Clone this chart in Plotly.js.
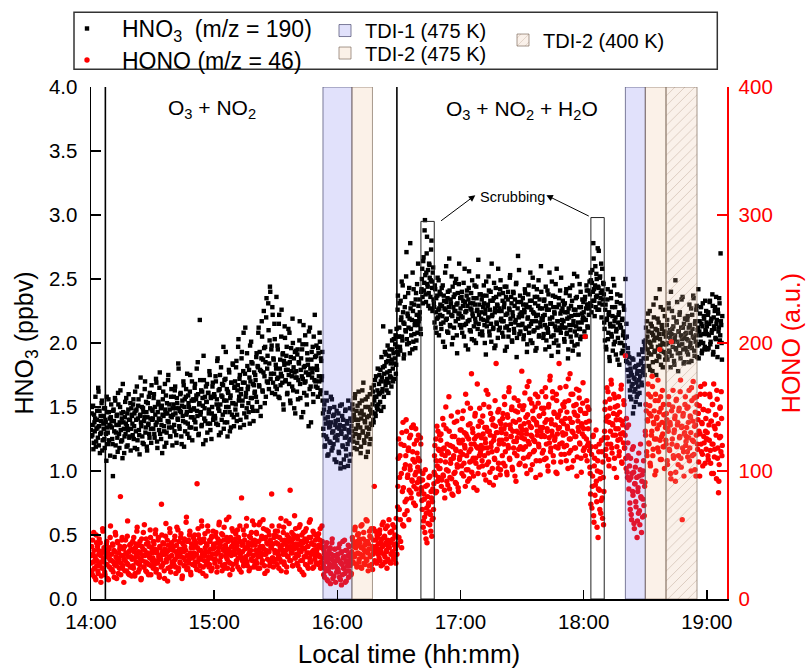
<!DOCTYPE html>
<html><head><meta charset="utf-8">
<script src="https://cdn.plot.ly/plotly-3.0.1.min.js"></script>
<style>html,body{margin:0;padding:0;background:#fff}#chart{width:811px;height:672px}</style>
</head><body><div id="chart"></div>
<script>
// ---------- data (time in minutes after 14:00) ----------
// two interleaved reads, each one sample every 20 s; read B is 10 s after read A
const sampleMinutes = 1/3;
const tickTimes = [0, 60, 120, 180, 240, 300];
const tickLabels = ['14:00', '15:00', '16:00', '17:00', '18:00', '19:00'];

// HNO3 (ppbv), m/z = 190 — read A
const hno3A = [
1.32,1.45,1.28,1.51,1.22,1.38,1.41,1.19,1.33,1.47,1.26,1.62,1.35,1.14,1.43,1.30,1.55,1.24,1.37,1.49,1.18,1.40,1.29,1.58,1.34,1.21,1.46,1.36,1.12,1.42,
1.39,1.25,0.96,1.48,1.31,1.57,1.20,1.36,1.44,1.15,1.52,1.29,1.38,1.63,1.23,1.41,1.10,1.46,1.33,1.27,1.54,1.37,1.19,1.45,1.32,1.60,1.26,1.40,1.16,1.49,
1.43,1.28,1.56,1.35,1.18,1.47,1.40,1.66,1.24,1.51,1.32,1.13,1.44,1.38,1.59,1.27,1.49,1.21,1.42,1.70,1.34,1.46,1.16,1.53,1.37,1.29,1.61,1.41,1.22,1.48,
1.47,1.33,1.60,1.26,1.44,1.72,1.38,1.18,1.52,1.41,1.65,1.29,1.49,1.36,1.14,1.56,1.43,1.31,1.68,1.45,1.22,1.53,1.39,1.75,1.34,1.48,1.27,1.58,1.42,1.20,
1.44,1.58,1.31,1.66,1.49,1.22,1.53,1.40,1.80,1.35,1.47,1.61,1.27,1.51,1.43,1.70,1.19,1.56,1.38,1.64,1.46,1.29,1.59,1.50,1.34,1.75,1.42,1.55,1.24,1.48,
1.55,1.40,1.68,1.33,1.59,1.47,1.85,1.28,1.52,2.18,1.44,1.63,1.36,1.57,1.21,1.71,1.49,1.39,1.66,1.54,1.30,1.61,1.45,1.78,1.37,1.58,1.25,1.50,1.69,1.42,
1.60,1.43,1.74,1.37,1.56,1.88,1.49,1.28,1.64,1.52,1.81,1.40,1.58,1.67,1.33,1.71,1.46,1.93,1.55,1.38,1.62,1.50,1.77,1.31,1.59,1.69,1.44,1.84,1.53,1.35,
1.66,1.48,1.81,1.39,1.63,1.97,1.55,1.72,1.34,1.60,1.88,1.51,1.69,2.08,1.45,1.76,1.58,1.42,1.92,1.64,1.53,1.79,1.37,1.70,2.01,1.57,1.84,1.47,1.67,1.61,
1.75,1.58,1.92,1.47,1.81,2.12,1.66,1.79,1.43,1.88,2.05,1.62,1.77,1.96,1.53,1.85,2.20,1.70,1.90,2.31,1.64,2.02,2.40,1.76,1.98,2.28,1.69,1.87,2.15,1.60,
1.83,2.36,1.72,1.95,1.58,2.22,1.80,1.67,2.05,1.74,1.91,1.52,1.86,2.13,1.70,1.79,1.97,1.61,1.84,1.75,2.08,1.55,1.89,1.78,1.66,2.00,1.81,1.49,1.93,1.73,
1.78,1.62,1.95,1.71,1.84,2.17,1.57,1.88,1.74,1.99,1.46,1.81,1.69,2.06,1.77,1.59,1.92,1.83,1.35,1.76,2.12,1.66,1.87,1.73,1.97,1.54,1.80,2.22,1.70,1.90,
1.82,1.65,1.96,1.74,2.08,1.60,1.88,1.71,1.93,1.45,1.28,1.52,1.20,1.37,1.61,1.25,1.42,1.13,1.34,1.49,1.22,1.38,1.56,1.18,1.31,1.44,1.09,1.36,1.27,1.47,
1.24,1.40,1.15,1.33,1.51,1.06,1.29,1.43,1.19,1.35,1.03,1.26,1.48,1.12,1.37,1.21,1.55,1.30,1.08,1.41,1.25,1.39,1.52,1.27,1.44,1.18,1.60,1.33,1.47,1.22,
1.36,1.62,1.28,1.45,1.14,1.41,1.55,1.31,1.69,1.24,1.39,1.50,1.11,1.34,1.58,1.29,1.43,1.21,1.48,1.37,1.65,1.46,1.62,1.38,1.55,1.71,1.43,1.58,1.49,1.80,
1.52,1.68,1.61,1.79,1.47,1.73,1.64,2.13,1.58,1.82,1.70,1.91,1.63,1.77,1.86,1.69,1.95,1.74,1.84,1.66,2.02,1.80,1.92,1.72,1.88,2.06,1.83,1.97,2.26,1.91,
2.05,2.31,1.94,2.18,2.48,2.02,2.24,1.88,2.15,2.36,2.09,2.71,1.99,2.21,2.12,2.43,1.92,2.27,2.06,2.18,2.55,2.01,2.30,2.14,1.96,2.39,2.22,2.08,2.62,2.17,
2.19,2.34,2.07,2.42,2.58,2.31,2.67,2.47,2.96,2.38,2.55,2.83,2.44,2.29,2.62,2.51,2.36,2.73,2.48,2.25,2.59,2.31,2.16,2.42,2.24,2.08,2.37,2.20,2.49,2.27,
2.22,2.38,2.11,2.29,2.45,2.16,2.33,1.97,2.26,2.60,2.19,2.35,2.08,2.28,2.41,2.13,2.31,2.52,2.21,2.04,2.36,2.25,2.47,2.17,2.30,1.92,2.39,2.23,2.62,2.14,
2.27,2.12,2.40,2.20,2.33,2.05,2.58,2.24,2.15,2.37,2.29,1.95,2.43,2.18,2.31,2.09,2.26,2.49,2.21,2.35,2.02,2.30,2.16,2.44,2.25,2.11,2.65,2.22,2.38,2.07,
2.19,2.34,2.06,2.28,2.45,2.14,2.23,1.91,2.37,2.17,2.30,2.52,2.09,2.26,2.40,2.01,2.21,2.33,2.12,2.47,2.24,1.98,2.36,2.15,2.29,2.58,2.10,2.27,2.42,2.18,
2.25,2.08,2.39,2.17,2.31,1.94,2.22,2.44,2.13,2.34,2.05,2.27,2.51,2.19,2.36,2.02,2.24,2.40,2.11,2.29,2.16,2.46,1.89,2.32,2.68,2.20,2.07,2.37,2.23,2.14,
2.21,2.35,2.03,2.26,2.42,2.12,2.30,1.93,2.19,2.38,2.08,2.28,2.55,2.15,2.33,2.00,2.24,2.44,2.10,2.31,2.17,1.96,2.36,2.22,2.49,2.06,2.27,2.13,2.40,2.19,
2.18,2.04,2.33,2.22,1.95,2.29,2.12,2.41,2.08,2.26,2.55,2.15,2.31,1.90,2.20,2.37,2.06,2.24,2.13,2.46,2.02,2.28,2.17,1.98,2.35,2.10,2.23,2.51,2.14,2.27,
2.12,2.30,2.01,2.24,2.39,2.07,2.19,1.88,2.27,2.14,2.43,2.05,2.21,2.33,1.94,2.17,2.54,2.09,2.26,2.13,2.36,1.99,2.22,2.11,2.46,2.03,2.28,2.16,2.34,2.20,
2.24,2.09,2.36,2.18,2.45,2.30,2.12,2.41,2.27,2.38,2.55,2.29,2.47,2.33,2.78,2.42,2.21,2.60,2.36,2.50,2.26,2.44,2.72,2.31,2.52,2.39,2.20,2.58,2.34,2.46,
2.16,2.02,2.30,1.95,2.19,2.42,2.08,2.24,1.86,2.13,2.35,2.05,2.21,2.50,1.99,2.17,2.28,1.91,2.11,2.38,2.04,2.22,1.83,2.14,2.31,2.00,2.18,1.94,2.09,2.26,
1.98,2.50,1.86,2.05,1.79,1.92,1.70,1.84,1.58,1.77,1.66,1.88,1.45,1.73,1.62,1.81,1.54,1.69,1.76,1.60,1.83,1.71,1.52,1.78,1.86,1.67,1.93,1.80,2.01,1.75,
1.96,2.12,1.88,2.05,2.23,1.92,2.01,1.79,2.15,1.97,2.08,1.85,2.30,2.02,1.94,2.11,1.75,2.04,2.19,1.90,2.07,2.42,1.98,1.83,2.14,2.00,2.26,1.93,2.09,1.87,
2.05,1.89,2.18,2.00,2.31,1.94,2.10,1.81,2.07,2.25,1.97,2.13,1.86,2.03,2.49,1.95,2.16,2.01,1.78,2.09,2.22,1.92,2.06,2.34,1.99,2.12,1.84,2.04,2.19,1.96,
2.08,1.93,2.21,2.02,1.85,2.14,2.00,2.27,1.96,2.11,2.37,2.04,1.90,2.17,2.06,2.29,1.98,2.12,1.88,2.09,2.23,2.01,2.15,1.94,2.31,2.07,2.19,1.97,2.10,2.25,
2.13,1.95,2.24,2.06,2.32,1.99,2.17,2.08,2.38,1.91,2.20,2.11,2.28,2.03,2.15,1.97,2.26,2.09,2.35,2.02,2.70,2.14,1.87
];
// HNO3 (ppbv) — read B
const hno3B = [
1.27,1.50,1.36,1.17,1.44,1.31,1.58,1.23,1.40,1.34,1.65,1.20,1.47,1.29,1.39,1.53,1.16,1.43,1.33,1.25,1.49,1.38,1.08,1.46,1.30,1.56,1.24,1.41,1.35,1.52,
1.34,1.21,1.47,1.39,1.11,1.55,1.30,1.43,1.26,1.61,1.36,1.18,1.50,1.32,1.45,1.24,1.68,1.38,1.14,1.42,1.29,1.57,1.35,1.20,1.48,1.40,1.27,1.53,1.33,1.44,
1.37,1.52,1.25,1.45,1.62,1.31,1.48,1.17,1.41,1.56,1.28,1.43,1.73,1.35,1.50,1.22,1.46,1.39,1.64,1.30,1.54,1.19,1.42,1.36,1.58,1.26,1.49,1.33,1.67,1.40,
1.41,1.57,1.29,1.50,1.36,1.69,1.23,1.46,1.54,1.32,1.77,1.40,1.25,1.51,1.44,1.62,1.35,1.19,1.48,1.59,1.30,1.45,1.71,1.38,1.52,1.27,1.43,1.64,1.34,1.49,
1.52,1.36,1.63,1.45,1.28,1.57,1.41,1.84,1.49,1.33,1.60,1.46,1.21,1.55,1.39,1.67,1.50,1.31,1.58,1.44,1.76,1.37,1.53,1.26,1.62,1.47,1.34,1.70,1.42,1.56,
1.49,1.65,1.38,1.56,1.80,1.43,1.60,1.29,1.53,1.71,1.46,1.35,1.62,1.51,1.90,1.41,1.58,1.24,1.54,1.68,1.37,1.61,1.48,1.75,1.32,1.57,1.45,1.66,1.40,1.59,
1.58,1.41,1.70,1.52,1.86,1.36,1.63,1.47,1.75,1.30,1.59,1.68,1.44,1.97,1.55,1.38,1.72,1.50,1.64,1.27,1.61,1.79,1.46,1.57,1.34,1.69,1.53,1.83,1.42,1.65,
1.70,1.52,1.86,1.44,1.67,2.03,1.58,1.75,1.40,1.64,1.93,1.55,1.78,1.36,1.69,2.12,1.61,1.49,1.82,1.66,1.46,1.73,1.98,1.57,1.85,1.50,1.68,1.39,1.77,1.62,
1.71,1.89,1.54,1.82,2.08,1.67,1.93,1.50,1.78,2.17,1.63,1.87,2.25,1.74,1.97,1.58,2.35,1.80,1.69,2.10,1.84,2.44,1.72,1.95,1.61,2.22,1.88,1.76,2.03,1.66,
1.80,1.64,1.98,1.73,2.15,1.57,1.87,1.76,2.26,1.69,1.92,1.48,1.83,2.04,1.71,1.90,1.60,1.79,2.11,1.68,1.85,1.53,1.96,1.74,2.19,1.63,1.88,1.77,1.45,1.94,
1.73,1.91,1.56,1.85,2.02,1.68,1.79,1.42,1.95,1.72,2.14,1.61,1.82,1.70,1.99,1.52,1.87,1.75,2.09,1.64,1.80,1.38,1.93,1.77,1.60,2.05,1.71,1.89,1.66,1.98,
1.79,1.58,1.92,1.70,2.01,1.63,1.86,1.74,1.55,1.33,1.48,1.19,1.41,1.27,1.55,1.12,1.38,1.46,1.23,1.35,1.58,1.16,1.30,1.43,1.21,1.50,1.26,1.39,1.07,1.34,
1.28,1.45,1.14,1.36,1.02,1.31,1.52,1.20,1.40,1.09,1.33,1.47,1.17,1.27,1.39,1.04,1.32,1.24,1.49,1.13,1.35,1.31,1.48,1.23,1.42,1.57,1.29,1.40,1.17,1.51,
1.40,1.26,1.53,1.34,1.19,1.47,1.63,1.30,1.44,1.22,1.38,1.56,1.27,1.42,1.15,1.50,1.33,1.60,1.25,1.45,1.36,1.52,1.40,1.67,1.58,1.45,1.74,1.51,1.63,1.48,
1.60,1.75,1.54,1.70,1.89,1.62,1.81,1.50,1.76,1.93,1.67,1.85,1.72,1.98,1.61,1.90,1.78,2.09,1.73,1.87,1.95,1.70,2.03,1.84,1.99,1.76,2.11,1.93,2.37,2.05,
2.12,1.97,2.33,2.20,2.05,2.45,2.16,1.91,2.28,2.10,2.52,2.03,2.23,2.39,2.00,2.19,2.78,2.11,2.31,1.95,2.25,2.42,2.07,2.17,2.34,2.02,2.46,2.14,2.29,2.21,
2.24,2.11,2.40,2.50,2.36,2.64,2.41,2.88,2.53,2.32,2.70,2.46,2.57,2.39,2.61,2.27,2.49,2.80,2.43,2.55,2.34,2.28,2.45,2.12,2.35,2.19,2.51,2.26,2.06,2.40,
2.30,2.15,2.43,2.21,2.01,2.37,2.27,2.55,2.18,2.32,2.09,2.40,2.24,2.66,2.14,2.34,2.22,1.99,2.44,2.28,2.12,2.38,2.25,2.50,2.06,2.31,2.19,2.46,2.23,2.35,
2.21,2.36,2.08,2.29,2.47,2.14,2.32,1.98,2.25,2.41,2.17,2.34,2.56,2.10,2.27,2.39,2.03,2.23,2.31,2.13,2.45,2.19,2.00,2.35,2.26,2.52,2.15,2.30,2.07,2.38,
2.24,2.09,2.37,2.18,2.31,2.00,2.26,2.48,2.13,2.29,2.20,2.41,2.06,2.33,2.15,2.62,2.22,2.11,2.35,1.96,2.27,2.43,2.16,2.30,2.04,2.25,2.38,2.12,2.49,2.19,
2.17,2.33,2.05,2.28,2.44,2.12,2.36,1.97,2.23,2.40,2.10,2.26,2.53,2.15,2.31,2.01,2.21,2.39,2.08,2.34,2.18,2.47,2.04,2.27,2.14,2.57,2.22,2.09,2.32,2.24,
2.15,2.30,2.06,2.24,2.39,2.11,2.28,1.99,2.20,2.45,2.13,2.33,2.02,2.26,2.17,2.51,2.09,2.23,2.36,1.94,2.21,2.42,2.12,2.29,2.05,2.34,2.16,2.60,2.19,2.27,
2.21,2.07,2.34,2.14,2.44,2.02,2.26,2.11,2.38,1.97,2.19,2.31,2.05,2.48,2.15,2.28,2.00,2.23,2.36,2.10,2.58,2.17,1.93,2.30,2.12,2.41,2.08,2.25,2.18,2.33,
2.17,2.03,2.31,2.12,2.42,2.08,2.24,1.95,2.20,2.37,2.10,2.29,2.01,2.45,2.14,2.26,1.98,2.22,2.35,2.06,2.52,2.16,1.91,2.28,2.11,2.40,2.05,2.23,2.18,2.32,
2.19,2.34,2.05,2.27,2.41,2.13,2.30,2.22,2.48,2.31,2.49,2.24,2.57,2.40,2.66,2.33,2.45,2.28,2.54,2.37,2.74,2.43,2.26,2.51,2.35,2.62,2.41,2.30,2.47,2.38,
2.11,2.26,1.97,2.18,2.34,2.03,2.22,1.89,2.15,2.40,2.07,2.28,1.94,2.13,2.45,2.01,2.20,2.09,2.32,1.87,2.16,2.24,2.00,2.37,2.12,1.92,2.19,2.06,2.29,1.98,
2.04,1.90,2.15,1.85,1.96,1.74,1.89,1.63,1.80,1.56,1.75,1.68,1.87,1.50,1.72,1.64,1.82,1.58,1.78,1.66,1.91,1.61,1.74,1.84,1.69,1.95,1.77,1.88,1.82,1.99,
2.02,1.88,2.17,1.95,2.09,1.82,2.25,2.00,1.91,2.13,1.78,2.06,2.20,1.93,2.04,2.35,1.86,2.10,1.97,2.16,1.89,2.03,2.28,1.94,2.11,1.81,2.07,1.99,2.21,1.92,
1.99,2.14,1.87,2.08,2.27,1.93,2.04,2.40,1.90,2.11,2.01,2.20,1.83,2.06,1.96,2.17,2.32,1.92,2.09,1.98,2.24,1.88,2.12,2.03,2.36,1.95,2.15,1.85,2.07,2.19,
2.03,2.18,1.91,2.12,2.30,1.97,2.08,1.86,2.22,2.05,2.35,1.94,2.15,2.01,2.26,1.89,2.10,2.42,1.99,2.17,2.06,2.28,1.92,2.13,2.00,2.21,1.95,2.33,2.09,2.16,
2.07,2.22,1.96,2.15,2.33,2.01,2.19,2.10,2.29,1.93,2.13,2.25,2.04,2.36,2.18,1.89,2.23,2.12,2.31,2.06,2.17,2.00,2.21
];

// HONO (a.u.), m/z = 46 — read A
const honoA = [
28,41,19,35,52,24,33,15,44,30,22,38,47,26,34,18,29,55,31,40,21,36,27,45,16,33,39,25,48,30,
35,23,42,29,17,37,50,26,32,44,20,31,39,80,28,46,24,34,13,41,30,36,22,49,27,33,19,38,43,25,
31,45,24,37,18,40,29,53,33,21,42,27,36,15,47,30,39,25,58,34,22,43,28,35,19,41,32,48,26,37,
36,24,43,30,51,21,38,28,46,33,17,40,31,74,26,44,35,22,39,49,29,37,14,42,32,55,25,41,34,27,
38,27,46,31,20,42,35,54,24,39,29,48,33,16,44,37,26,41,30,60,23,45,34,28,50,36,19,43,32,40,
33,46,26,41,35,90,29,50,38,22,44,31,57,36,25,47,34,40,18,43,30,53,37,27,45,32,48,24,39,42,
40,28,49,35,21,44,37,58,30,42,33,51,26,39,46,24,41,36,62,31,45,29,38,19,48,34,55,27,43,37,
35,47,28,41,54,32,38,23,45,36,79,30,43,26,50,39,33,57,29,40,44,22,37,48,31,42,61,34,25,46,
42,30,51,36,24,45,39,60,33,47,28,41,55,35,20,48,38,44,31,53,37,26,46,40,82,32,43,29,50,36,
37,49,27,43,34,57,31,40,22,46,38,52,29,44,35,61,25,41,33,48,39,85,30,45,36,26,50,42,32,55,
40,28,47,34,56,23,42,37,50,30,44,19,39,53,33,45,26,41,36,60,29,48,35,43,24,38,51,31,46,37,
36,48,27,42,33,55,29,40,45,28,19,36,24,41,31,15,33,22,38,27,12,35,44,25,30,18,39,26,34,21,
32,23,40,17,29,36,11,27,45,24,33,20,38,14,30,26,42,22,35,28,19,37,48,29,43,33,56,40,27,45,
36,51,31,44,25,40,58,34,47,28,42,37,62,30,45,22,39,53,33,48,27,41,35,55,88,38,46,29,50,36,
43,32,54,38,26,47,41,60,35,49,29,44,37,57,31,45,40,52,28,46,36,58,33,42,50,39,63,35,72,110,
48,95,62,121,40,84,138,57,102,76,112,131,69,97,118,85,104,128,79,93,115,136,88,107,73,99,124,91,110,82,
108,92,121,85,70,98,61,78,52,88,67,44,80,73,95,58,66,84,49,76,63,90,112,97,125,84,104,131,95,116,
102,124,88,113,141,96,118,79,107,133,92,115,100,158,86,120,109,94,127,81,112,138,99,117,90,105,146,84,122,111,
115,132,98,124,147,106,120,88,129,112,153,101,125,94,137,117,176,108,130,96,121,143,110,127,85,118,135,103,149,114,
120,138,104,129,152,112,125,93,134,118,160,107,131,99,145,122,115,141,89,127,109,135,184,116,130,102,148,124,97,137,
130,112,145,121,158,104,136,125,97,142,118,165,109,133,127,150,101,139,123,114,147,92,131,126,155,117,140,106,135,129,
126,148,110,137,161,119,132,98,144,123,170,113,135,128,153,105,141,124,116,150,95,138,131,158,121,143,108,134,127,162,
134,116,149,127,165,110,140,131,100,152,122,174,118,137,128,157,107,145,126,119,160,98,142,133,184,121,147,113,139,130,
128,150,113,141,166,120,135,102,155,125,176,116,138,131,160,108,146,127,118,152,96,143,134,163,122,148,110,137,129,169,
133,118,205,145,125,108,150,122,139,103,82,119,71,96,128,60,110,89,132,76,100,48,115,85,94,67,124,79,107,58,
126,148,112,139,165,121,143,104,156,131,171,118,137,128,160,110,150,133,95,144,124,158,115,140,129,167,106,136,122,152,
118,190,102,134,95,112,86,104,70,95,62,117,81,99,55,90,76,108,48,84,67,96,58,121,79,92,64,100,73,88,
131,152,115,140,168,122,145,106,158,128,174,112,138,147,97,160,125,142,118,155,136,195,109,149,127,163,119,144,102,137,
124,145,108,133,158,117,138,98,201,121,150,112,130,141,92,155,119,136,105,147,126,162,110,134,62,143,115,129,152,120,
127,149,111,138,163,118,142,100,155,124,170,113,135,146,96,158,121,140,107,151,129,166,115,137,104,148,122,160,131,117,
125,147,109,136,160,116,139,98,152,121,168,111,133,144,94,156,118,83,105,149,127,162,112
];
// HONO (a.u.) — read B
const honoB = [
34,22,46,29,38,17,31,50,26,41,20,35,28,44,13,37,24,53,30,39,19,33,43,27,36,15,40,31,57,23,
30,43,21,38,27,52,33,16,45,29,36,24,41,19,34,48,26,39,31,22,46,35,28,61,20,37,42,25,33,18,
39,26,48,32,20,43,35,56,28,37,23,45,31,16,41,34,52,25,38,29,47,21,36,44,27,33,54,19,40,30,
32,45,27,39,54,23,36,30,48,19,41,34,25,50,37,28,43,16,35,59,31,46,24,38,33,52,21,44,29,40,
41,30,49,25,37,56,33,22,45,36,28,51,39,18,43,32,47,26,38,64,34,24,46,31,53,21,40,35,27,48,
36,50,29,44,23,40,55,32,47,26,38,61,34,20,45,30,51,37,27,42,57,33,25,46,39,22,49,35,53,31,
43,31,52,36,25,47,40,60,29,45,34,22,50,38,56,27,42,33,48,24,39,64,35,28,46,41,23,53,37,44,
39,51,30,44,25,48,36,57,33,21,42,37,54,28,46,31,40,63,26,43,35,49,24,38,52,30,45,34,58,27,
38,52,28,45,33,58,24,41,36,49,30,62,39,26,47,35,54,22,43,37,50,29,44,40,57,32,25,48,38,53,
44,31,53,37,24,48,40,63,29,42,35,56,27,46,38,21,50,33,45,59,30,41,36,52,26,47,39,65,32,43,
35,49,26,43,38,58,30,45,21,40,52,33,47,27,55,36,41,24,48,32,62,29,44,37,53,25,42,34,50,28,
39,28,51,34,46,24,41,57,32,26,38,17,33,22,44,29,14,36,25,40,20,31,47,16,34,27,39,13,30,24,
35,21,30,43,15,28,37,19,32,24,46,13,29,38,22,34,17,41,26,31,20,33,46,28,41,54,35,44,25,50,
42,29,47,35,57,24,40,33,52,38,27,45,31,61,36,43,26,49,34,55,39,23,46,37,30,53,41,28,48,35,
39,51,30,45,36,58,27,42,48,33,55,38,24,46,41,62,29,44,35,53,37,47,31,56,43,28,49,42,88,125,
70,112,45,98,130,58,87,120,66,105,140,78,95,116,62,126,101,83,134,92,109,75,121,97,133,86,114,103,128,94,
100,126,87,77,93,56,82,64,101,47,71,89,59,75,68,96,53,79,62,86,70,99,120,83,108,135,92,117,102,128,
108,129,93,117,97,136,85,112,150,101,121,89,114,131,95,106,143,82,119,110,98,127,91,116,139,103,87,124,109,132,
122,104,141,113,96,130,118,160,101,127,92,136,115,107,149,121,99,133,110,87,125,145,106,119,168,98,128,112,139,116,
126,108,143,118,97,134,122,163,105,131,114,150,91,128,119,140,102,136,124,110,155,95,130,117,146,106,121,139,101,133,
124,141,106,133,152,115,129,99,144,120,162,110,136,127,148,103,131,118,157,96,138,123,112,146,130,105,151,119,134,178,
132,117,151,125,104,142,129,166,111,138,121,156,101,134,127,147,115,140,123,160,108,136,128,153,119,143,97,131,149,114,
128,145,109,138,158,121,133,104,150,126,171,115,140,131,162,112,146,124,136,99,155,129,118,144,134,165,107,139,122,152,
137,119,154,129,108,146,133,172,114,141,125,160,103,138,130,151,118,144,127,164,111,139,131,157,121,147,99,135,153,116,
127,145,112,138,155,120,133,148,116,98,74,113,88,127,65,104,81,119,92,56,108,86,121,70,99,77,115,63,95,84,
131,154,117,142,126,162,109,138,149,121,168,114,136,145,102,157,128,140,119,151,133,112,146,125,164,107,139,130,155,118,
128,110,141,99,122,136,93,75,110,66,98,84,119,59,90,103,72,95,61,87,114,69,101,80,52,97,78,108,65,91,
128,147,112,139,160,121,151,104,143,131,166,117,137,125,155,100,141,133,171,115,146,124,158,109,138,129,152,119,144,134,
121,140,105,131,152,116,136,94,147,125,163,110,132,143,99,156,120,138,112,149,127,171,103,135,118,145,96,130,158,123,
134,115,150,126,108,143,130,165,112,139,123,157,101,136,128,152,117,145,131,96,160,121,138,113,148,127,168,106,141,125,
130,112,147,124,158,106,139,121,152,98,135,117,144,128,163,110,137,92,126,150,115,141,120
];

// experiment events (minutes after 14:00)
const injectionTimes = [7.0, 149.0];
const tdi1Start = [113.0, 260.3], tdi1End = [127.1, 270.0];
const tdi2Start = [127.1, 270.0], tdi2End = [137.1, 280.1];
const tdi2LowStart = [280.1], tdi2LowEnd = [295.2];
const scrubStart = [160.7, 243.5], scrubEnd = [167.2, 250.0], scrubTop = [2.95, 2.98];

// ---------- drawing ----------
const FONT = 'Liberation Sans, Arial, Helvetica, sans-serif';
const plotL = 91, plotR = 727, plotT = 87, plotB = 599.3;
const px2x = p => (p - plotL) / (plotR - plotL);
const px2y = p => (plotB - p) / (plotB - plotT);

const readTimes = (arr, offset) => arr.map((_, i) => i * sampleMinutes + offset);
const timeH = readTimes(hno3A, 0).concat(readTimes(hno3B, sampleMinutes / 2));
const timeR = readTimes(honoA, 0).concat(readTimes(honoB, sampleMinutes / 2));

function regionBar(starts, ends, name, marker, legend) {
  return {
    type: 'bar', xaxis: 'x', yaxis: 'y3',
    x: starts.map((s, i) => (s + ends[i]) / 2),
    width: starts.map((s, i) => ends[i] - s),
    y: starts.map(() => 1), base: 0,
    name: name, legend: legend, marker: marker, hoverinfo: 'skip', showlegend: true
  };
}

const traces = [
  {type: 'scatter', mode: 'markers', x: timeH, y: hno3A.concat(hno3B), yaxis: 'y', legend: 'legend', showlegend: true,
   name: 'HNO<sub>3</sub>\u00a0 (m/z = 190)', hoverinfo: 'skip',
   marker: {symbol: 'square', size: 4.4, color: '#000', line: {width: 0}}},
  {type: 'scatter', mode: 'markers', x: timeR, y: honoA.concat(honoB), yaxis: 'y2', legend: 'legend2', showlegend: true,
   name: 'HONO (m/z = 46)', hoverinfo: 'skip',
   marker: {symbol: 'circle', size: 5.4, color: '#ff0000', line: {width: 0}}},
  regionBar(tdi1Start, tdi1End, 'TDI-1 (475 K)',
    {color: 'rgba(105,105,235,0.20)', line: {color: 'rgba(60,60,100,0.65)', width: 1}}, 'legend3'),
  regionBar(tdi2Start, tdi2End, 'TDI-2 (475 K)',
    {color: 'rgba(232,170,110,0.16)', line: {color: 'rgba(120,100,85,0.65)', width: 1}}, 'legend4'),
  regionBar(tdi2LowStart, tdi2LowEnd, 'TDI-2 (400 K)',
    {color: 'rgba(232,190,160,0.22)', line: {color: 'rgba(120,100,85,0.65)', width: 1},
     pattern: {shape: '/', fillmode: 'overlay', fgcolor: '#a88c78', fgopacity: 0.4, size: 7, solidity: 0.13}}, 'legend5')
];

const shapes = [];
injectionTimes.forEach(t => shapes.push({type: 'line', xref: 'x', yref: 'y', x0: t, x1: t, y0: 0, y1: 4,
  line: {color: '#000', width: 1.6}}));
scrubStart.forEach((s, i) => shapes.push({type: 'rect', xref: 'x', yref: 'y', x0: s, x1: scrubEnd[i], y0: 0, y1: scrubTop[i],
  fillcolor: 'rgba(0,0,0,0)', line: {color: '#222', width: 1}}));
shapes.push({type: 'rect', xref: 'paper', yref: 'paper', x0: px2x(74), x1: px2x(717.3), y0: px2y(69.3), y1: px2y(12.3),
  fillcolor: 'rgba(0,0,0,0)', line: {color: '#333', width: 1.5}});

const annotations = [
  {xref: 'x', yref: 'y', x: 59.1, y: 3.826, text: 'O<sub>3</sub> + NO<sub>2</sub>', showarrow: false, font: {size: 21}},
  {xref: 'x', yref: 'y', x: 209.9, y: 3.82, text: 'O<sub>3</sub> + NO<sub>2</sub> + H<sub>2</sub>O', showarrow: false, font: {size: 21}},
  {xref: 'x', yref: 'y', x: 205.2, y: 3.14, text: 'Scrubbing', showarrow: false, font: {size: 14.5}},
  {xref: 'x', yref: 'y', x: 187.2, y: 3.155, axref: 'x', ayref: 'y', ax: 169.8, ay: 2.946, text: '',
   showarrow: true, arrowhead: 2, arrowsize: 1.3, arrowwidth: 1, arrowcolor: '#000', standoff: 0},
  {xref: 'x', yref: 'y', x: 221.8, y: 3.155, axref: 'x', ayref: 'y', ax: 243.2, ay: 2.986, text: '',
   showarrow: true, arrowhead: 2, arrowsize: 1.3, arrowwidth: 1, arrowcolor: '#000', standoff: 0}
];

const axisCommon = {showgrid: false, zeroline: false, showline: true, linewidth: 1.5, ticks: 'inside', tickwidth: 1.5};
const legendBase = (left, centre, size, itemwidth) => ({x: px2x(left), y: px2y(centre), xanchor: 'left', yanchor: 'middle',
  bgcolor: 'rgba(0,0,0,0)', borderwidth: 0, font: {size: size}, itemwidth: itemwidth, visible: true});

const layout = {
  width: 811, height: 672,
  margin: {l: plotL, r: 811 - plotR, t: plotT, b: 672 - plotB, autoexpand: false},
  paper_bgcolor: '#fff', plot_bgcolor: 'rgba(0,0,0,0)',
  font: {family: FONT, size: 20, color: '#000'},
  showlegend: true,
  barmode: 'overlay', hovermode: false,
  xaxis: Object.assign({}, axisCommon, {range: [0, 309.8], tickmode: 'array', tickvals: tickTimes, ticktext: tickLabels,
    ticklen: 9, linecolor: '#000', tickcolor: '#000', tickfont: {size: 20.5}, ticklabelstandoff: 4,
    title: {text: 'Local time (hh:mm)', font: {size: 26}, standoff: 12}}),
  yaxis: Object.assign({}, axisCommon, {range: [0, 4], dtick: 0.5, tick0: 0, tickformat: '.1f', ticklen: 10,
    linecolor: '#000', tickcolor: '#000', tickfont: {size: 20.5}, ticklabelstandoff: 8,
    title: {text: 'HNO<sub>3</sub> (ppbv)', font: {size: 25}, standoff: 8}}),
  yaxis2: Object.assign({}, axisCommon, {overlaying: 'y', side: 'right', anchor: 'x', range: [0, 400], dtick: 100, tick0: 0,
    ticklen: 10, linecolor: '#ff0000', tickcolor: '#ff0000', tickfont: {size: 20.5, color: '#ff0000'}, ticklabelstandoff: 6,
    title: {text: 'HONO (a.u.)', font: {size: 25, color: '#ff0000'}, standoff: 10}}),
  yaxis3: {overlaying: 'y', anchor: 'x', range: [0, 1], visible: false, fixedrange: true},
  legend: legendBase(52, 28.5, 23, 60),
  legend2: legendBase(52, 60, 23, 60),
  legend3: legendBase(325, 30.5, 20, 30),
  legend4: legendBase(325, 53, 20, 30),
  legend5: legendBase(503, 40, 20, 30),
  shapes: shapes,
  annotations: annotations
};

Plotly.newPlot('chart', traces, layout, {displayModeBar: false, staticPlot: true});
</script>
</body></html>
